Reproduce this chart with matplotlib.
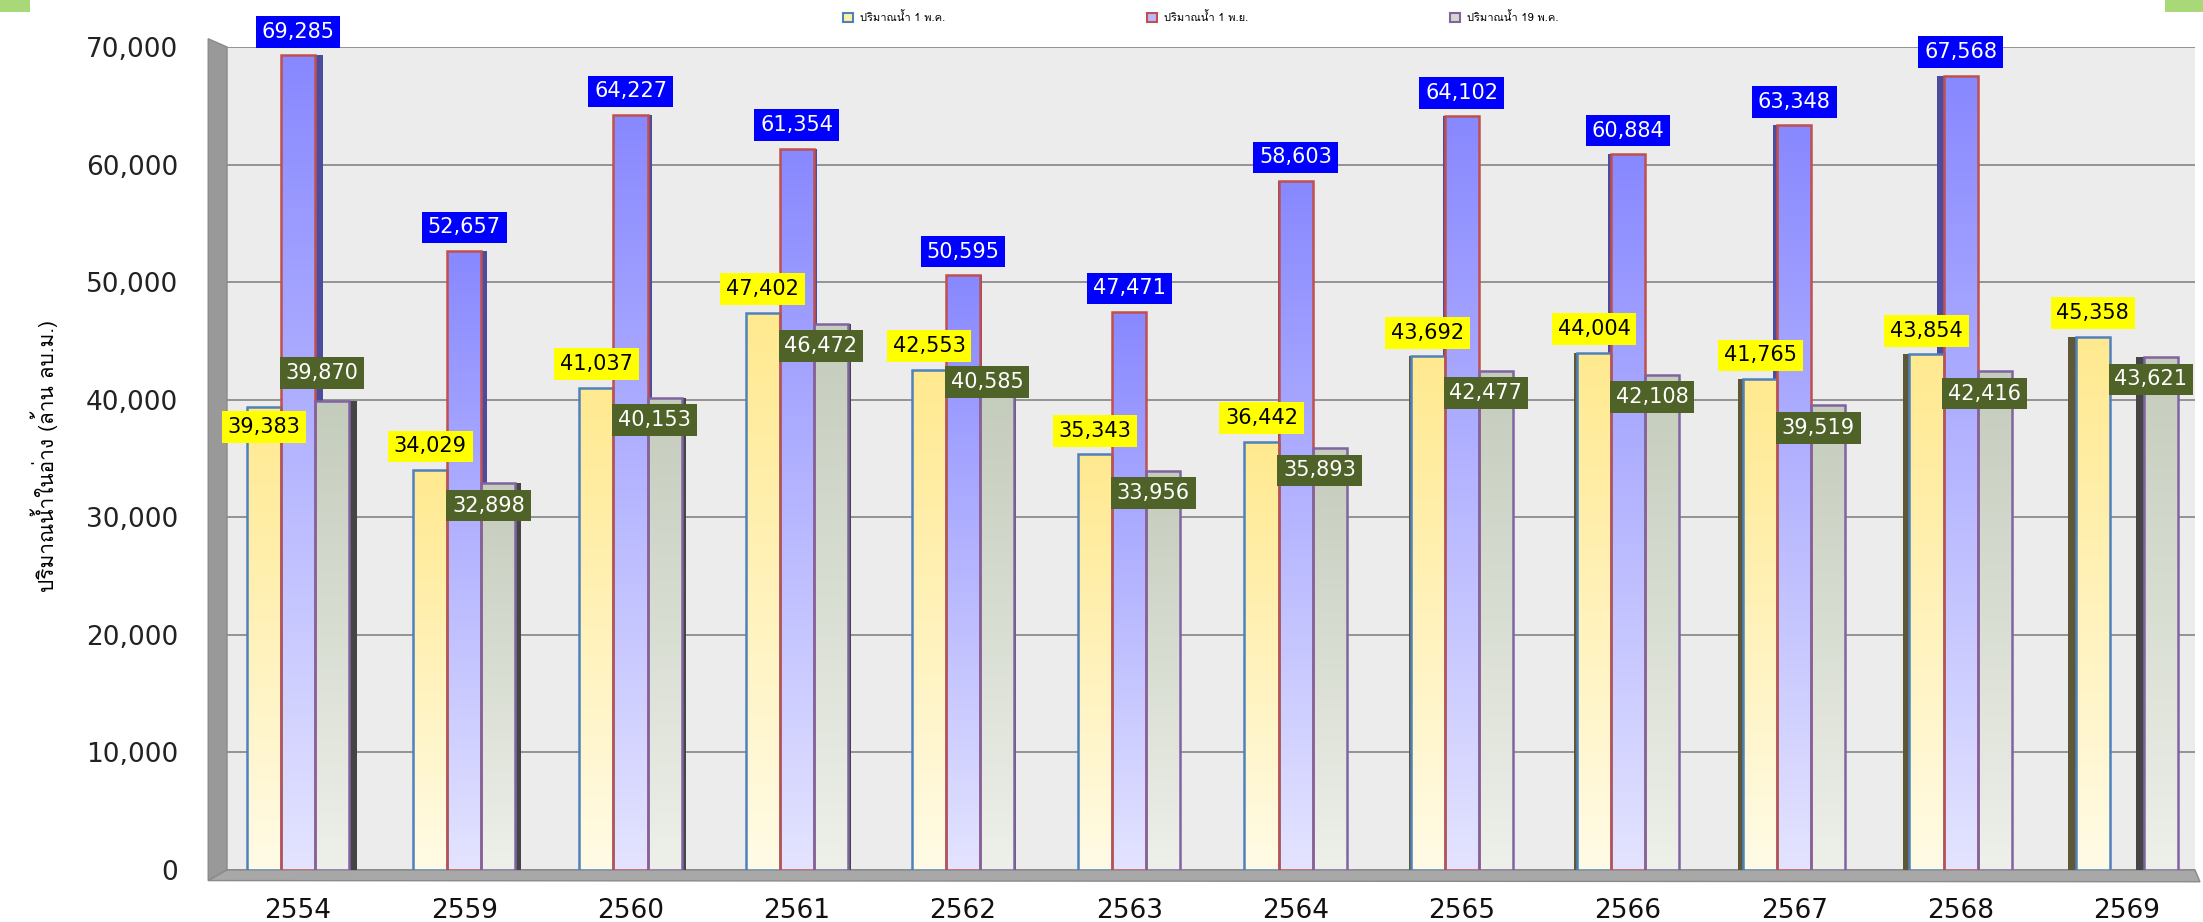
import numpy as np
import matplotlib
matplotlib.use('Agg')
import matplotlib.pyplot as plt
from matplotlib import font_manager
from matplotlib.ft2font import FT2Font
from matplotlib.colors import LinearSegmentedColormap
from matplotlib.patches import Rectangle, Polygon

years = ['2554', '2559', '2560', '2561', '2562', '2563',
         '2564', '2565', '2566', '2567', '2568', '2569']
may1 = [39383, 34029, 41037, 47402, 42553, 35343,
        36442, 43692, 44004, 41765, 43854, 45358]
nov1 = [69285, 52657, 64227, 61354, 50595, 47471,
        58603, 64102, 60884, 63348, 67568, None]
may19 = [39870, 32898, 40153, 46472, 40585, 33956,
         35893, 42477, 42108, 39519, 42416, 43621]
series_names = ['ปริมาณน้ำ 1 พ.ค.', 'ปริมาณน้ำ 1 พ.ย.', 'ปริมาณน้ำ 19 พ.ค.']
y_label = 'ปริมาณน้ำในอ่าง (ล้าน ลบ.ม.)'


def thai_font():
    # first installed family that has Thai glyphs
    for f in font_manager.fontManager.ttflist:
        try:
            if 0x0E1B in FT2Font(f.fname).get_charmap():
                return f.name
        except Exception:
            pass
    return 'DejaVu Sans'


thai = thai_font()

fig = plt.figure(figsize=(22.03, 9.22), dpi=100)
ax = fig.add_axes([227 / 2203, 1 - 870 / 922, (2195 - 227) / 2203, (870 - 47) / 922])
ax.set_facecolor('#ECECEC')

x = np.arange(len(years))
w = 0.205

styles = [
    # offset, bottom colour, top colour, edge, side colour
    (-w, '#FFFBE6', '#FFE98F', '#4F81BD', '#5E5836'),
    (0.0, '#E4E4FF', '#8888FF', '#C0504D', '#4B4BA0'),
    (w, '#EEF0EA', '#C4CCBC', '#8064A2', '#454545'),
]

grad = np.linspace(0, 1, 256).reshape(-1, 1)

for vals, (off, c0, c1, ec, side) in zip([may1, nov1, may19], styles):
    idx = np.array([i for i, v in enumerate(vals) if v is not None])
    xs = x[idx] + off
    hs = np.array([vals[i] for i in idx], dtype=float)
    # 3D side face, seen from the middle of the chart
    dx = 0.045 * (5.5 - idx) / 5.5
    ax.bar(xs + dx, hs, width=w, color=side, zorder=2, linewidth=0)
    bars = ax.bar(xs, hs, width=w, color=c1, zorder=3, linewidth=0)
    cmap = LinearSegmentedColormap.from_list('g', [c0, c1])
    for b in bars:
        x0, h = b.get_x(), b.get_height()
        im = ax.imshow(grad, extent=[x0, x0 + w, 0, h], origin='lower',
                       aspect='auto', cmap=cmap, zorder=3.1)
        im.set_clip_path(b)
    ax.bar(xs, hs, width=w, fill=False, edgecolor=ec, linewidth=1.8, zorder=3.2)

# label nudges where the chart moved labels to avoid overlaps
nudge_may1 = {'2554': -3700}
nudge_may19 = {'2554': 4300, '2562': 2800}

lab = dict(ha='center', va='center', fontsize=15, zorder=6)
for i, v in enumerate(may1):
    ax.text(x[i] - w, v + 2000 + nudge_may1.get(years[i], 0), f'{v:,}', color='black',
            bbox=dict(boxstyle='square,pad=0.28', fc='#FFFF00', ec='none'), **lab)
for i, v in enumerate(nov1):
    if v is None:
        continue
    ax.text(x[i], v + 2000, f'{v:,}', color='white',
            bbox=dict(boxstyle='square,pad=0.28', fc='#0000FF', ec='none'), **lab)
for i, v in enumerate(may19):
    ax.text(x[i] + w - 0.06, v - 1900 + nudge_may19.get(years[i], 0), f'{v:,}', color='white',
            bbox=dict(boxstyle='square,pad=0.28', fc='#4F6228', ec='none'), **lab)

xl = (-0.427, 11.41)
ax.set_xlim(*xl)
ax.set_ylim(0, 70000)

# left wall and floor
ax.add_patch(Polygon([(-0.54, 70700), (xl[0], 70000), (xl[0], 0), (-0.54, -900)],
                     closed=True, fc='#999999', ec='#8A8A8A', clip_on=False, zorder=1))
ax.add_patch(Polygon([(-0.54, -900), (xl[0], 0), (xl[1], 0), (xl[1] + 0.03, -1000)],
                     closed=True, fc='#A8A8A8', ec='#8A8A8A', clip_on=False, zorder=1))

ax.set_yticks(range(0, 70001, 10000))
ax.set_yticklabels([f'{t:,}' for t in range(0, 70001, 10000)], fontsize=19, color='#222222')
ax.set_xticks(x)
ax.set_xticklabels(years, fontsize=19, color='#111111')
ax.tick_params(axis='y', length=0, pad=35)
ax.tick_params(axis='x', length=0, pad=20)
ax.yaxis.grid(True, color='#8C8C8C', linewidth=1.3)
ax.set_axisbelow(True)
for s in ax.spines.values():
    s.set_visible(False)

fig.text(0.02, 0.505, y_label, rotation=90, fontsize=15, ha='center', va='center',
         family=[thai, 'DejaVu Sans'])

handles = [Rectangle((0, 0), 1, 1, fc=fc, ec=ec, lw=1.5) for fc, ec in
           [('#FFF0A8', '#4F81BD'), ('#B8B8FF', '#C0504D'), ('#D4D8CC', '#8064A2')]]
fig.legend(handles, series_names, loc='center', bbox_to_anchor=(0.545, 0.981), ncol=3,
           frameon=False, columnspacing=18.2, handlelength=0.9, handleheight=0.9,
           handletextpad=0.6, prop={'family': [thai, 'DejaVu Sans'], 'size': 8})

# small green corner pieces
fig.patches.append(Rectangle((0, 1 - 12 / 922), 30 / 2203, 12 / 922, fc='#A8D878',
                             ec='none', transform=fig.transFigure, figure=fig))
fig.patches.append(Rectangle((1 - 38 / 2203, 1 - 12 / 922), 38 / 2203, 12 / 922, fc='#A8D878',
                             ec='none', transform=fig.transFigure, figure=fig))

fig.savefig('out.png', dpi=100)
